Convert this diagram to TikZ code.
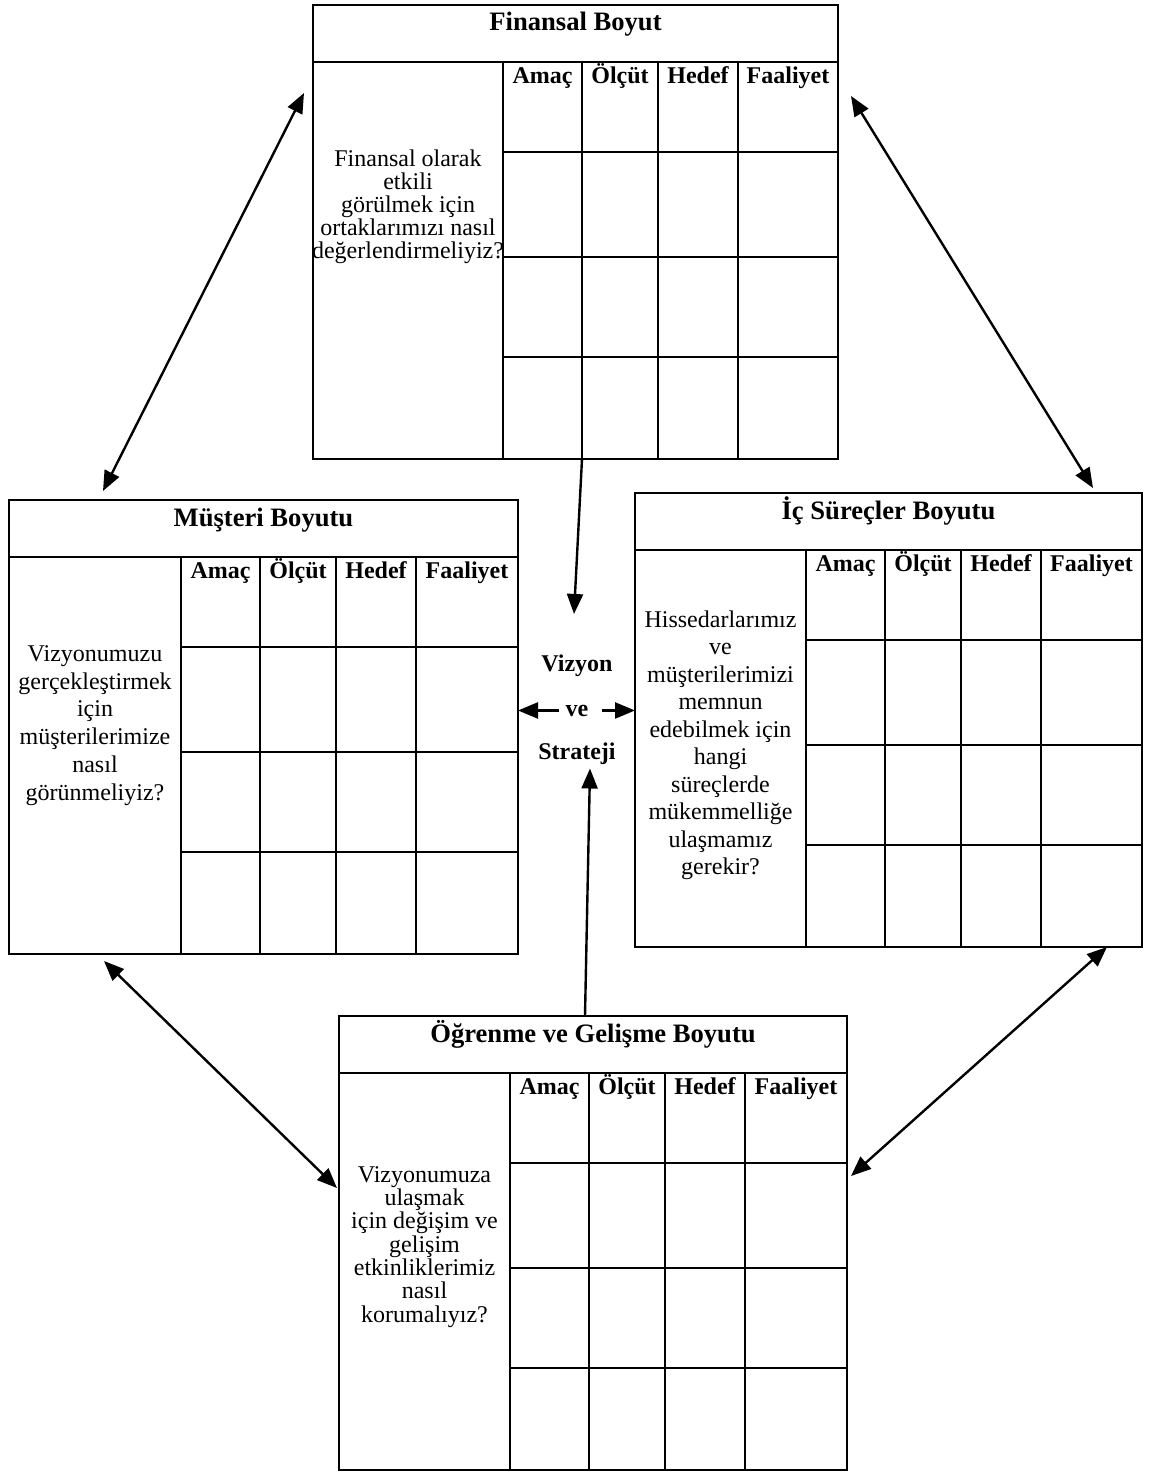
\documentclass[tikz,border=0pt]{standalone}
\usepackage{fontspec}
\setmainfont{Liberation Serif}
\usetikzlibrary{calc,arrows.meta,positioning}

% one perspective table: name, x, y, width, width of question column, title
\newcommand{\perspective}[6]{%
    \node[frame, minimum width=#4*0.5pt, minimum height=454*0.5pt, anchor=north west] (#1) at (#2,#3) {};
    \begin{scope}[shift={(#2,#3)}]
        \draw[grid] (0,57) -- (#4,57);
        \foreach \c in {0,79,155,235} \draw[grid] (#5+\c,57) -- (#5+\c,454);
        \foreach \r in {147,252,352} \draw[grid] (#5,\r) -- (#4,\r);
        \node[boxtitle] (#1-title) at (#4/2,26) {#6};
        \foreach \h/\c [count=\i] in {Amaç/39.5,Ölçüt/117,Hedef/195}
            \node[colhead] (#1-col\i) at (#5+\c,78) {\h};
        \node[colhead] (#1-col4) at ({#5+(235+#4-#5)/2},78) {Faaliyet};
    \end{scope}
}

\begin{document}
\begin{tikzpicture}[x=0.5pt, y=-0.5pt,
    font=\fontsize{12}{14}\selectfont,
    frame/.style={draw, line width=1.3pt, inner sep=0pt, outer sep=0pt},
    grid/.style={line width=1.3pt},
    boxtitle/.style={anchor=base, inner sep=0pt, font=\fontsize{13.3}{16}\selectfont\bfseries},
    colhead/.style={anchor=base, inner sep=0pt, font=\fontsize{12}{14}\selectfont\bfseries},
    question/.style={anchor=north, align=center, inner sep=0pt},
    vision/.style={anchor=base, inner sep=2pt, font=\fontsize{12}{14}\selectfont\bfseries},
    link/.style={{Triangle[length=10pt,width=8pt]}-{Triangle[length=10pt,width=8pt]}, line width=1.2pt},
    flow/.style={-{Triangle[length=10pt,width=8pt]}, line width=1.2pt}]
    \useasboundingbox (0,0) rectangle (1152,1472);

    % The four perspectives
    \perspective{fin}{313}{5}{525}{190}{Finansal Boyut}
    \perspective{mus}{9}{500}{509}{172}{Müşteri Boyutu}
    \perspective{ic}{635}{493}{507}{171}{İç Süreçler Boyutu}
    \perspective{ogr}{339}{1016}{508}{171}{Öğrenme ve Gelişme Boyutu}

    % Questions in the left column of each table
    \node[question, font={\fontsize{12}{11.5}\selectfont}] (fin-q) at (408,149)
        {Finansal olarak\\etkili\\görülmek için\\ortaklarımızı nasıl\\değerlendirmeliyiz?};
    \node[question, font={\fontsize{12}{13.9}\selectfont}] (mus-q) at (95,645)
        {Vizyonumuzu\\gerçekleştirmek\\için\\müşterilerimize\\nasıl\\görünmeliyiz?};
    \node[question, font={\fontsize{12}{13.75}\selectfont}] (ic-q) at (720.5,610)
        {Hissedarlarımız\\ve\\müşterilerimizi\\memnun\\edebilmek için\\hangi\\süreçlerde\\mükemmelliğe\\ulaşmamız\\gerekir?};
    \node[question, font={\fontsize{12}{11.65}\selectfont}] (ogr-q) at (424.5,1166)
        {Vizyonumuza\\ulaşmak\\için değişim ve\\gelişim\\etkinliklerimiz\\nasıl\\korumalıyız?};

    % Vision and strategy in the middle
    \node[vision] (viz) at (577,671) {Vizyon};
    \node[vision] (ve) at (577,716) {ve};
    \node[vision] (str) at (577,759) {Strateji};

    % Links between the perspectives
    \draw[link] ($(fin.north west)+(-9,88)$) -- ($(mus.north west)+(94,-9)$);
    \draw[link] ($(fin.north east)+(13,91)$) -- ($(ic.north east)+(-49,-5)$);
    \draw[link] ($(mus.south west)+(95,7)$) -- ($(ogr.north west)+(-2,172)$);
    \draw[link] ($(ic.south east)+(-35,0)$) -- ($(ogr.north east)+(4,160)$);

    % Arrows to and from the centre
    \draw[flow] ($(fin.south)+(6.5,0)$) -- ($(viz.north)+(-3,-36)$);
    \draw[flow] ($(ogr.north)+(-8,0)$) -- ($(str.south)+(13,0)$);
    \draw[flow] ($(ve.west)+(-2,0)$) -- (mus.east |- ve);
    \draw[flow] ($(ve.east)+(9,0)$) -- (ic.west |- ve);
\end{tikzpicture}
\end{document}
